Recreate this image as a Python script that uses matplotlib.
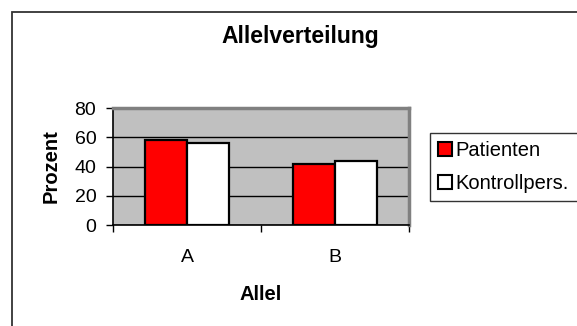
import matplotlib
matplotlib.use("Agg")
import matplotlib.pyplot as plt
from matplotlib.patches import Rectangle, Patch
import numpy as np

plt.rcParams['font.family'] = ['Liberation Sans', 'DejaVu Sans']

# Data
categories = ["A", "B"]
patienten = [58, 42]
kontrollpers = [56, 44]
series_labels = ["Patienten", "Kontrollpers."]
yticks = [0, 20, 40, 60, 80]

W, H = 577, 326
fig = plt.figure(figsize=(W / 100, H / 100), dpi=100)
fig.patch.set_facecolor("white")

# Outer chart frame (runs off the right and bottom edges)
fig.patches.append(Rectangle((12 / W, -0.2), 1.2, 1 - 12.5 / H + 0.2,
                             transform=fig.transFigure, fill=False,
                             edgecolor="#333333", linewidth=1.3, zorder=0))

ax = fig.add_axes([113 / W, 1 - 225 / H, (409 - 113) / W, (225 - 108) / H])
ax.set_facecolor("#C0C0C0")

x = np.arange(len(categories))
w = 0.2857
ax.bar(x - w / 2, patienten, width=w, color="#FF0000", edgecolor="black",
       linewidth=1.6, zorder=3, label=series_labels[0])
ax.bar(x + w / 2, kontrollpers, width=w, color="white", edgecolor="black",
       linewidth=1.6, zorder=3, label=series_labels[1])

ax.set_xlim(-0.5, len(categories) - 0.5)
ax.set_ylim(0, 80)
ax.set_yticks(yticks)
ax.yaxis.grid(True, color="black", linewidth=1.0, zorder=1)
ax.set_axisbelow(True)

ax.set_xticks(x)
ax.set_xticklabels(categories)
ax.set_xticks(np.arange(-0.5, len(categories)), minor=True)
ax.tick_params(axis="x", which="major", length=0, pad=17, labelsize=14)
ax.tick_params(axis="x", which="minor", length=5, width=1, direction="out",
               color="black")
ax.tick_params(axis="y", length=5, width=1, direction="out", color="black",
               pad=7, labelsize=14)

for side in ("top", "right"):
    ax.spines[side].set_color("#808080")
    ax.spines[side].set_linewidth(2.5)
for side in ("left", "bottom"):
    ax.spines[side].set_color("black")
    ax.spines[side].set_linewidth(1.2)

# Titles
fig.text(300 / W, 1 - 43 / H, "Allelverteilung", ha="center", va="baseline",
         fontsize=16.5, fontweight="bold")
fig.text(261 / W, 1 - 300 / H, "Allel", ha="center", va="baseline",
         fontsize=14.5, fontweight="bold")
fig.text(51 / W, 1 - 166 / H, "Prozent", ha="center", va="center",
         rotation=90, fontsize=14.5, fontweight="bold")

# Legend box, its right side running past the figure edge
handles = [Patch(facecolor="#FF0000", edgecolor="black", linewidth=1.5),
           Patch(facecolor="white", edgecolor="black", linewidth=1.5)]
leg = fig.legend(handles, series_labels, loc="upper left",
                 bbox_to_anchor=(430 / W, 1 - 133 / H, 160 / W, 0.0),
                 bbox_transform=fig.transFigure, borderaxespad=0,
                 mode="expand",
                 fontsize=14.5, frameon=True, fancybox=False, shadow=False,
                 handlelength=0.7, handleheight=0.7, handletextpad=0.15,
                 borderpad=0.4, labelspacing=0.7)
leg.get_frame().set_edgecolor("black")
leg.get_frame().set_linewidth(1.0)

fig.savefig("out.png", dpi=100)
